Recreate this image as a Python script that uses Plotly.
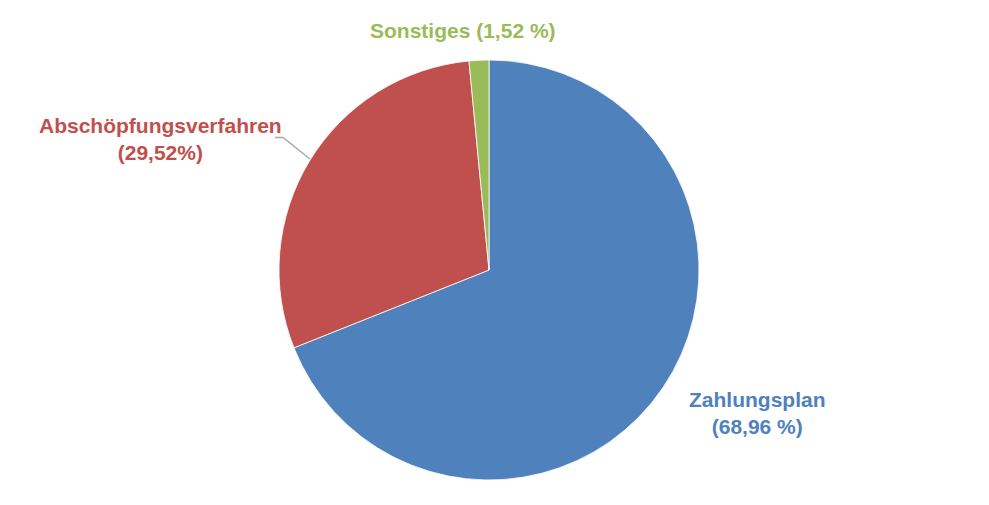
import plotly.graph_objects as go

labels = ["Zahlungsplan", "Abschöpfungsverfahren", "Sonstiges"]
values = [68.96, 29.52, 1.52]
label_texts = ["Zahlungsplan<br>(68,96 %)", "Abschöpfungsverfahren<br>(29,52%)", "Sonstiges (1,52 %)"]
colors = ["#4F81BD", "#C0504D", "#9BBB59"]

W, H = 989, 505
OFF = 8  # page body margin
cx, cy, r = 489 - OFF, 270 - OFF, 210

fig = go.Figure(go.Pie(
    labels=labels, values=values, sort=False, direction="clockwise", rotation=0,
    marker=dict(colors=colors, line=dict(color="#FFFFFF", width=0.8)),
    textinfo="none", hoverinfo="label+percent", showlegend=False,
    domain=dict(x=[(cx - r) / W, (cx + r) / W], y=[1 - (cy + r) / H, 1 - (cy - r) / H]),
))

label_pos = [(757, 413), (160, 139), (463, 30)]
for txt, col, (px, py) in zip(label_texts, colors, label_pos):
    fig.add_annotation(x=(px - OFF) / W, y=1 - (py - OFF) / H, xref="paper", yref="paper",
                       text=f"<b>{txt}</b>", showarrow=False,
                       font=dict(family="Liberation Sans, Arial", size=21, color=col),
                       align="center", xanchor="center", yanchor="middle")

def P(x, y):
    return f"{(x - OFF) / W} {1 - (y - OFF) / H}"

fig.add_shape(type="path", xref="paper", yref="paper",
              path=f"M {P(275, 137.5)} L {P(283, 137.5)} L {P(310, 159)}",
              line=dict(color="#A6A6A6", width=1.3))

fig.update_layout(width=W, height=H, margin=dict(l=0, r=0, t=0, b=0),
                  paper_bgcolor="#FFFFFF", plot_bgcolor="#FFFFFF")
fig.write_html("out.html")
